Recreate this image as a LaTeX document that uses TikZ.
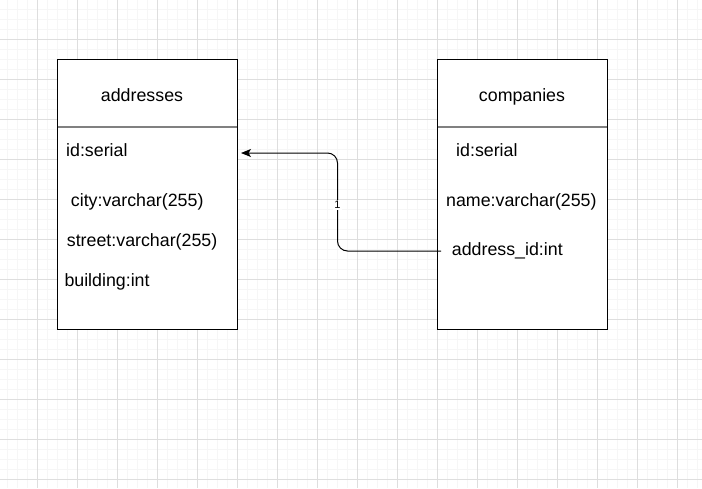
\documentclass[tikz,border=0pt]{standalone}
\usepackage{fontspec}
\setmainfont{Liberation Sans}
\usetikzlibrary{arrows.meta}
\begin{document}
\begin{tikzpicture}[x=1pt,y=-1pt,
  minorgrid/.style={draw=gray!7,line width=1pt},
  majorgrid/.style={draw=gray!26,line width=1pt},
  tbl/.style={draw=black,line width=1.2pt,fill=white,inner sep=0pt,outer sep=0pt},
  sepline/.style={draw=black!50,line width=2pt},
  fld/.style={anchor=base west,inner sep=0pt,font=\fontsize{17.8}{20}\selectfont},
  ttl/.style={anchor=base,inner sep=0pt,font=\fontsize{17.8}{20}\selectfont},
  conn/.style={draw=black,line width=1pt,rounded corners=10pt,-{Stealth[length=10pt,width=8pt,inset=2.5pt]}},
  lbl/.style={fill=white,inner sep=1.5pt,font=\fontsize{11}{12}\selectfont}
]
\useasboundingbox (0,0) rectangle (702,488);
\fill[white] (0,0) rectangle (702,488);
% grid
\foreach \x in {7,17,...,697} \draw[minorgrid] (\x,0) -- (\x,488);
\foreach \y in {9,19,...,479} \draw[minorgrid] (0,\y) -- (702,\y);
\foreach \x in {37,77,...,677} \draw[majorgrid] (\x,0) -- (\x,488);
\foreach \y in {39,79,...,479} \draw[majorgrid] (0,\y) -- (702,\y);
% tables
\node[tbl,minimum width=179.8pt,minimum height=269.6pt] (addr) at (147.4,194.3) {};
\node[tbl,minimum width=169.8pt,minimum height=269.8pt] (comp) at (522.4,194.2) {};
\draw[sepline] (57.5,127) -- (237.3,127);
\draw[sepline] (437.5,127) -- (607.3,127);
% addresses texts
\node[ttl] (addrtitle) at (142,101) {addresses};
\node[fld] (aid) at (66,156) {id:serial};
\node[fld] (acity) at (70.7,206) {city:varchar(255)};
\node[fld] (astreet) at (66.7,246) {street:varchar(255)};
\node[fld] (abuilding) at (64.3,286) {building:int};
% companies texts
\node[ttl] (comptitle) at (522,101) {companies};
\node[fld] (cid) at (456,156) {id:serial};
\node[fld] (cname) at (446,206.5) {name:varchar(255)};
\node[fld] (caddr) at (451.7,255.7) {address\_id:int};
% connector
\coordinate (src) at (441,251);
\coordinate (dst) at (241,153);
\draw[conn] (src) -- (337.5,251) -- (337.5,153) -- (dst);
\node[lbl] (one) at (337.5,205) {1};
\end{tikzpicture}
\end{document}
